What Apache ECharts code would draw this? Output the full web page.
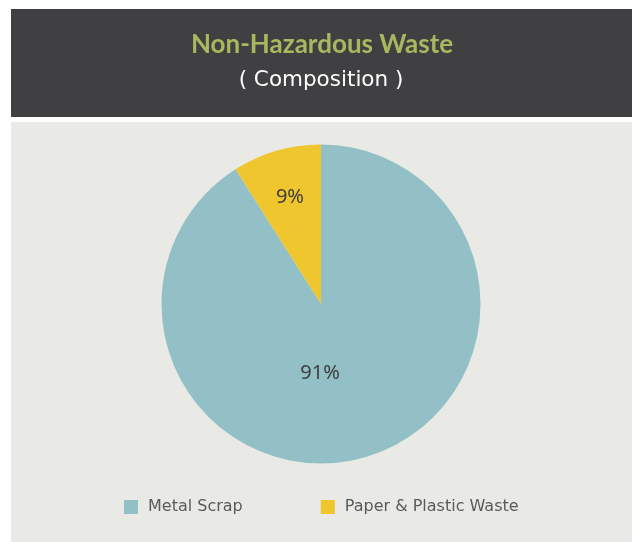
<!DOCTYPE html>
<html>
<head>
<meta charset="utf-8">
<script src="https://cdn.jsdelivr.net/npm/echarts@6/dist/echarts.min.js"></script>
<style>
  html, body { margin: 0; padding: 0; background: #ffffff; }
  #chart { width: 632px; height: 542px; }
</style>
</head>
<body>
<div id="chart"></div>
<script>
// Waste composition shares (%)
const categories = ['Metal Scrap', 'Paper & Plastic Waste'];
const shares = [91, 9];
const colors = ['#93c0c6', '#efc62e'];
const titleText = 'Non-Hazardous Waste';
const subtitleText = '( Composition )';

const chart = echarts.init(document.getElementById('chart'), null, { renderer: 'canvas' });

const pieData = categories.map((name, i) => ({
  name: name,
  value: shares[i],
  itemStyle: { color: colors[i] }
}));

chart.setOption({
  backgroundColor: '#ffffff',
  animation: false,
  graphic: [
    // dark header band
    { type: 'rect', z: -10, shape: { x: 11, y: 9, width: 621, height: 108 }, style: { fill: '#404042' } },
    // light panel behind the pie
    { type: 'rect', z: -10, shape: { x: 11, y: 122, width: 621, height: 420 }, style: { fill: '#e9e9e5' } },
    // heading and sub-heading inside the header band
    {
      type: 'text', x: 322, y: 45,
      style: {
        text: titleText, fill: '#a9b75e', align: 'center', verticalAlign: 'middle',
        font: 'bold 26px Lato'
      }
    },
    {
      type: 'text', x: 321, y: 80.5,
      style: {
        text: subtitleText, fill: '#ffffff', align: 'center', verticalAlign: 'middle',
        font: '21.5px "DejaVu Sans"'
      }
    }
  ],
  legend: {
    bottom: 22,
    left: 119,
    itemWidth: 14,
    itemHeight: 14,
    itemGap: 78,
    icon: 'rect',
    data: categories,
    textStyle: { fontFamily: 'DejaVu Sans', fontSize: 16, color: '#5a5a5a', padding: [0, 0, 0, 5] }
  },
  series: [{
    type: 'pie',
    center: [321, 304],
    radius: 159.5,
    startAngle: 90,
    clockwise: true,
    data: pieData,
    label: {
      show: true,
      position: 'inside',
      formatter: '{c}%',
      fontFamily: 'Noto Sans',
      fontSize: 20,
      color: '#3e3e3e'
    },
    labelLayout: function (p) {
      // nudge labels: small slice further out, large slice toward bottom centre
      if (p.dataIndex === 1) return { dx: -8, dy: -27 };
      return { dx: -24, dy: -10 };
    },
    labelLine: { show: false },
    emphasis: { disabled: true }
  }]
});
</script>
</body>
</html>
